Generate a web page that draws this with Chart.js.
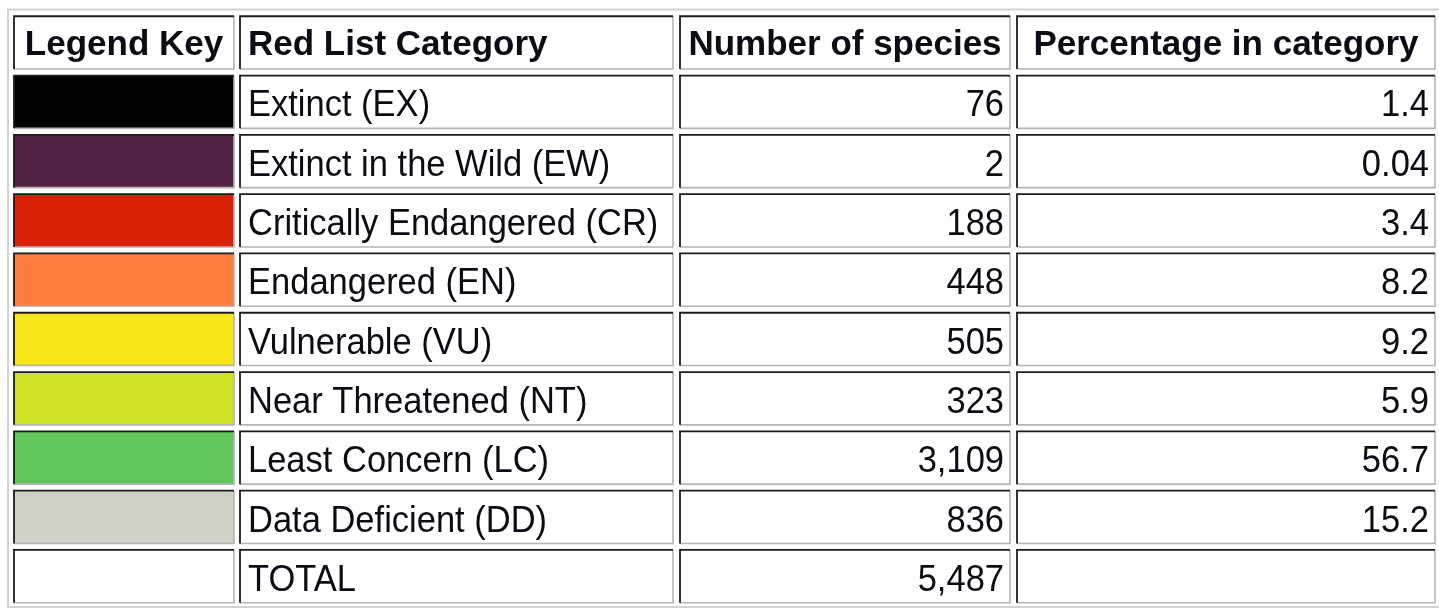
<!DOCTYPE html>
<html lang="en">
<head>
<meta charset="UTF-8">
<title>Red List categories</title>
<script src="https://cdn.jsdelivr.net/npm/chart.js"></script>
<style>
  html, body { margin: 0; padding: 0; background: #fff; }
  #wrap { width: 1439px; height: 609px; }
</style>
</head>
<body>
<div id="wrap"><canvas id="redList"></canvas></div>
<script>
// table content
const headers = ['Legend Key', 'Red List Category', 'Number of species', 'Percentage in category'];
const categories = ['Extinct (EX)', 'Extinct in the Wild (EW)', 'Critically Endangered (CR)', 'Endangered (EN)',
    'Vulnerable (VU)', 'Near Threatened (NT)', 'Least Concern (LC)', 'Data Deficient (DD)'];
const speciesCounts = [76, 2, 188, 448, 505, 323, 3109, 836];
const percentages = [1.4, 0.04, 3.4, 8.2, 9.2, 5.9, 56.7, 15.2];
const keyColors = ['#000000', '#542344', '#d82106', '#fd7c3c', '#f8e516', '#cfe024', '#60c659', '#d1d1c6'];
const totalLabel = 'TOTAL';
const totalSpecies = 5487;

// layout: column spans in table units (x scale runs 0..1439)
const colSpans = [[14, 234], [240, 673], [680, 1010], [1017, 1435]];
const headerAlign = ['center', 'left', 'center', 'center'];
const bodyAlign = ['left', 'left', 'right', 'right'];
const fontFamily = '"Liberation Sans", Arial, sans-serif';

const rowKeys = ['header', ...categories, totalLabel];
const fmt = n => n.toLocaleString('en-US');

function cellText(r, c) {
    if (r === 0) return headers[c];
    if (c === 0) return '';
    if (r === rowKeys.length - 1) {
        return c === 1 ? totalLabel : c === 2 ? fmt(totalSpecies) : '';
    }
    const i = r - 1;
    if (c === 1) return categories[i];
    if (c === 2) return fmt(speciesCounts[i]);
    return String(percentages[i]);
}

const datasets = colSpans.map((span, c) => ({
    label: headers[c],
    data: rowKeys.map(() => span),
    backgroundColor: c === 0 ? ['#ffffff', ...keyColors, '#ffffff'] : '#ffffff',
    borderWidth: 0,
    grouped: false,
    categoryPercentage: 1,
    barPercentage: 0.89
}));

// draws the sunken cell borders, the outer frame and the cell text
const tablePlugin = {
    id: 'tablePlugin',
    afterDatasetsDraw(chart) {
        const ctx = chart.ctx;
        const area = chart.chartArea;
        const xs = chart.scales.x;

        ctx.save();
        ctx.strokeStyle = '#d2d2d2';
        ctx.lineWidth = 2;
        ctx.strokeRect(xs.getPixelForValue(8), area.top - 3.5, xs.getPixelForValue(1445) - xs.getPixelForValue(8), area.bottom - area.top + 4.5);

        chart.data.datasets.forEach((ds, c) => {
            chart.getDatasetMeta(c).data.forEach((bar, r) => {
                const p = bar.getProps(['x', 'y', 'base', 'height'], true);
                const left = Math.min(p.x, p.base), right = Math.max(p.x, p.base);
                const top = p.y - p.height / 2, bottom = p.y + p.height / 2;

                ctx.lineWidth = 1.6;
                ctx.strokeStyle = '#b4b4b4';
                ctx.beginPath();
                ctx.moveTo(left, bottom);
                ctx.lineTo(right, bottom);
                ctx.lineTo(right, top);
                ctx.stroke();
                ctx.lineWidth = 1.8;
                ctx.strokeStyle = '#1c1c1c';
                ctx.beginPath();
                ctx.moveTo(left, bottom);
                ctx.lineTo(left, top);
                ctx.lineTo(right, top);
                ctx.stroke();

                const txt = cellText(r, c);
                if (!txt) return;
                const head = r === 0;
                const align = head ? headerAlign[c] : bodyAlign[c];
                const tx = align === 'left' ? left + 8 : align === 'right' ? right - 6 : (left + right) / 2;
                const ty = p.y + (head ? 12.5 : 14.5);
                ctx.font = (head ? 'bold 35px ' : '34.5px ') + fontFamily;
                ctx.textAlign = align;
                ctx.textBaseline = 'alphabetic';
                ctx.fillStyle = '#0c0c14';
                ctx.save();
                ctx.translate(tx, ty);
                ctx.scale(1, head ? 1.0 : 1.07);
                ctx.fillText(txt, 0, 0);
                ctx.restore();
            });
        });
        ctx.restore();
    }
};

new Chart(document.getElementById('redList'), {
    type: 'bar',
    data: { labels: rowKeys, datasets: datasets },
    options: {
        indexAxis: 'y',
        responsive: true,
        maintainAspectRatio: false,
        animation: false,
        layout: { padding: { top: 13, bottom: 3, left: 0, right: 0 } },
        plugins: { legend: { display: false }, tooltip: { enabled: false } },
        scales: {
            x: { type: 'linear', min: 0, max: 1439, display: false },
            y: { type: 'category', display: false, offset: true }
        }
    },
    plugins: [tablePlugin]
});
</script>
</body>
</html>
